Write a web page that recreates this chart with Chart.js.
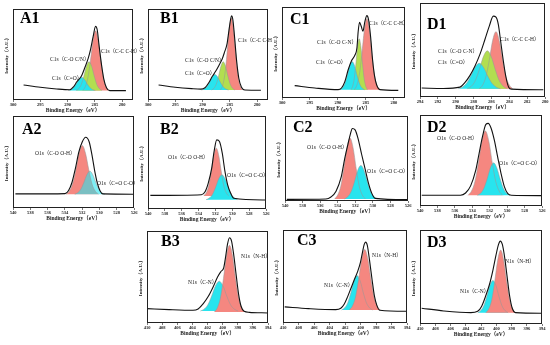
<!DOCTYPE html>
<html>
<head>
<meta charset="utf-8">
<script src="https://cdn.jsdelivr.net/npm/chart.js@4.4.1/dist/chart.umd.min.js"></script>
<style>
  body { margin: 0; background: #fff; }
  #wrap { position: relative; width: 550px; height: 345px; overflow: hidden; }
  #wrap canvas { position: absolute; }
</style>
</head>
<body>
<div id="wrap"></div>
<script>
// axis ranges (eV) and tick steps
const C1S_RANGE = [278, 300];
const D1_RANGE = [280, 294];
const O1S_RANGE = [526, 540];
const N1S_RANGE = [394, 410];

// [binding energy, intensity in % of the frame height]
const A1_env = [[279.3,10.3],[282.25,10.3],[282.86,13.5],[283.35,23],[283.8,40],[284.2,58.8],[284.56,77.2],[284.87,80.9],[285.3,69.9],[285.8,55.1],[286.2,46],[286.8,36],[287.4,27],[288.3,20],[288.9,14.5],[289.6,11.2],[292,12.1],[295,14],[298.06,16.5]];
const A1_red = [[282.48,10.5],[282.95,14.6],[283.43,24.3],[283.9,43.3],[284.38,65.5],[284.85,76],[285.33,65.5],[285.8,43.3],[286.28,24.3],[286.75,14.6],[287.23,10.5]];
const A1_green = [[283.68,10.5],[284.15,12.5],[284.63,17.1],[285.1,26.3],[285.58,37],[286.05,42],[286.53,37],[287.0,26.3],[287.48,17.1],[287.95,12.5],[288.43,10.5]];
const A1_cyan = [[284.9,10.5],[285.4,11.4],[285.9,13.6],[286.4,17.8],[286.9,22.7],[287.4,25],[287.9,22.7],[288.4,17.8],[288.9,13.6],[289.4,11.4],[289.9,10.5]];

const B1_env = [[279.3,10.7],[282.25,11],[282.86,14],[283.35,23.9],[283.77,44.1],[284.14,69.9],[284.44,88.2],[284.69,92.6],[284.87,88.2],[285.17,76],[285.5,62],[286.0,52],[286.4,45],[287.0,38],[287.6,31.5],[288.2,26],[288.8,19.5],[289.55,13.5],[290.3,12],[292,12.5],[295,14],[298.06,16.5]];
const B1_red = [[282.72,11],[283.12,15.9],[283.52,27.6],[283.92,50.5],[284.32,77.4],[284.72,90],[285.12,77.4],[285.52,50.5],[285.92,27.6],[286.32,15.9],[286.72,11]];
const B1_green = [[284.08,11],[284.5,12.9],[284.93,17.5],[285.35,26.5],[285.78,37],[286.2,42],[286.63,37],[287.05,26.5],[287.48,17.5],[287.9,12.9],[288.33,11]];
const B1_cyan = [[285.23,11],[285.73,12.1],[286.23,14.6],[286.73,19.5],[287.23,25.3],[287.73,28],[288.23,25.3],[288.73,19.5],[289.23,14.6],[289.73,12.1],[290.23,11]];

const C1_env = [[279.2,8.4],[282.48,9.2],[283.08,14.5],[283.44,24],[283.8,42.1],[284.16,67.8],[284.52,86.1],[284.82,90.5],[285.17,84.2],[285.53,73.3],[285.83,78.8],[286.13,83.2],[286.37,73.3],[286.6,55],[286.97,47],[287.57,41],[288.16,31],[288.76,18],[289.36,11],[289.96,9.2],[294.14,11],[297.73,13.6]];
const C1_red = [[282.57,9],[283.02,13.9],[283.47,25.4],[283.92,48],[284.37,74.5],[284.82,87],[285.27,74.5],[285.72,48],[286.17,25.4],[286.62,13.9],[287.07,9]];
const C1_green = [[284.69,9],[284.99,12.5],[285.29,20.8],[285.59,37],[285.89,56],[286.19,65],[286.49,56],[286.79,37],[287.09,20.8],[287.39,12.5],[287.69,9]];
const C1_cyan = [[285.2,9],[285.65,10.9],[286.1,15.5],[286.55,24.5],[287.0,35],[287.45,40],[287.9,35],[288.35,24.5],[288.8,15.5],[289.25,10.9],[289.7,9]];

const D1_env = [[280.19,7.7],[283.73,8.4],[284.07,10.5],[284.37,21],[284.67,38.6],[284.97,59.6],[285.23,77.2],[285.49,84.9],[285.79,86],[286.24,75.4],[286.72,61.4],[287.28,45.6],[287.84,33],[288.4,23],[288.96,15.5],[289.52,10.5],[291.39,9.1],[293.81,9.5]];
const D1_red = [[283.62,8.8],[283.99,12.6],[284.37,21.5],[284.74,39.2],[285.12,59.8],[285.49,69.5],[285.87,59.8],[286.24,39.2],[286.62,21.5],[286.99,12.6],[287.37,8.8]];
const D1_green = [[284.21,8.8],[284.66,11.3],[285.11,17.3],[285.56,29],[286.01,42.7],[286.46,49.1],[286.91,42.7],[287.36,29],[287.81,17.3],[288.26,11.3],[288.71,8.8]];
const D1_cyan = [[284.99,8.8],[285.46,10.5],[285.94,14.5],[286.41,22.3],[286.89,31.5],[287.36,35.8],[287.84,31.5],[288.31,22.3],[288.79,14.5],[289.26,10.5],[289.74,8.8]];

const A2_env = [[526,15],[529.6,15.3],[529.92,18.5],[530.24,27],[530.56,41],[530.87,58],[531.19,72],[531.59,76.9],[531.98,72],[532.38,61],[532.78,43],[533.17,28],[533.57,19],[533.97,15.6],[536,15.4],[539.72,15.4]];
const A2_red = [[530.1,15],[530.48,18.3],[530.86,26.1],[531.23,41.4],[531.61,59.4],[531.98,67.8],[532.36,59.4],[532.73,41.4],[533.11,26.1],[533.48,18.3],[533.86,15]];
const A2_cyan = [[529.36,15],[529.71,16.6],[530.06,20.3],[530.41,27.5],[530.76,36],[531.11,40],[531.46,36],[531.81,27.5],[532.16,20.3],[532.51,16.6],[532.86,15]];

const B2_env = [[526,9.6],[529.82,11.5],[530.22,17.5],[530.55,26],[530.87,40.4],[531.19,60],[531.52,72.5],[531.84,74.3],[532.16,61.8],[532.44,43.9],[532.85,27.9],[533.25,18.2],[533.66,15.4],[539.72,14.6]];
const B2_red = [[530.4,14],[530.7,17.2],[531.0,24.8],[531.3,39.7],[531.6,57.2],[531.9,65.4],[532.2,57.2],[532.5,39.7],[532.8,24.8],[533.1,17.2],[533.4,14]];
const B2_cyan = [[529.36,10],[529.73,11.7],[530.11,15.6],[530.48,23.4],[530.86,32.5],[531.23,36.8],[531.61,32.5],[531.98,23.4],[532.36,15.6],[532.73,11.7],[533.11,10]];

const C2_env = [[526,1.6],[529.73,3.1],[530.12,9],[530.5,21],[530.89,38],[531.28,55],[531.67,72.9],[532.02,83.7],[532.33,85.3],[532.56,78.7],[532.83,67],[533.22,49],[533.6,28.3],[534.19,11.6],[534.77,4.7],[535.35,2.3],[539.8,1.9]];
const C2_red = [[530.85,2.5],[531.2,7],[531.55,17.5],[531.9,38.3],[532.25,62.5],[532.6,74],[532.95,62.5],[533.3,38.3],[533.65,17.5],[534.0,7],[534.35,2.5]];
const C2_cyan = [[529.49,2.5],[529.86,5],[530.24,10.8],[530.61,22.2],[530.99,35.6],[531.36,41.9],[531.74,35.6],[532.11,22.2],[532.49,10.8],[532.86,5],[533.24,2.5]];

const D2_env = [[526,11.4],[529.53,11.8],[529.92,13.6],[530.31,21],[530.7,35.7],[531.09,54],[531.47,72.4],[531.86,86],[532.17,90.8],[532.44,89.7],[532.83,76.1],[533.22,57.7],[533.6,39.3],[534.19,22.1],[534.77,14.3],[535.35,11.8],[539.8,11.8]];
const D2_red = [[530.5,11.8],[530.9,16.2],[531.3,26.6],[531.7,47.1],[532.1,71.1],[532.5,82.4],[532.9,71.1],[533.3,47.1],[533.7,26.6],[534.1,16.2],[534.5,11.8]];
const D2_cyan = [[529.68,11.8],[530.05,14],[530.43,19.3],[530.8,29.6],[531.18,41.7],[531.55,47.4],[531.93,41.7],[532.3,29.6],[532.68,19.3],[533.05,14],[533.43,11.8]];

const B3_env = [[394,10.9],[396.48,11.6],[397.16,12.7],[397.56,18.2],[397.88,30.9],[398.19,50.9],[398.51,72.7],[398.82,89.1],[399.09,92.7],[399.36,85.5],[399.59,72.7],[399.86,60],[400.22,56],[400.67,50],[401.21,40],[401.89,29],[402.56,21],[403.24,15.3],[403.92,13.8],[407.07,14.5],[410,15.6]];
const B3_red = [[397.09,12],[397.49,16.5],[397.89,27.2],[398.29,48.2],[398.69,72.8],[399.09,84.4],[399.49,72.8],[399.89,48.2],[400.29,27.2],[400.69,16.5],[401.09,12]];
const B3_cyan = [[397.95,13],[398.45,15],[398.95,19.8],[399.45,29.3],[399.95,40.3],[400.45,45.5],[400.95,40.3],[401.45,29.3],[401.95,19.8],[402.45,15],[402.95,13]];

const C3_env = [[394,12.6],[397.5,13.7],[397.89,19],[398.2,28.8],[398.51,46.8],[398.82,66.5],[399.12,83.5],[399.34,87],[399.52,84.5],[399.74,76.3],[400.0,65.5],[400.35,55.8],[400.79,46.8],[401.23,37.4],[401.67,28.1],[402.11,20.1],[402.54,15.8],[403.2,14.4],[406.71,15.5],[409.78,17.3]];
const C3_red = [[397.45,14],[397.85,18.1],[398.25,27.7],[398.65,46.5],[399.05,68.6],[399.45,79.1],[399.85,68.6],[400.25,46.5],[400.65,27.7],[401.05,18.1],[401.45,14]];
const C3_cyan = [[398.44,14],[398.84,16.3],[399.24,21.8],[399.64,32.5],[400.04,45.1],[400.44,51],[400.84,45.1],[401.24,32.5],[401.64,21.8],[402.04,16.3],[402.44,14]];

const D3_env = [[394,11.4],[397.47,12.1],[397.91,17],[398.27,31.1],[398.58,50.7],[398.89,70.4],[399.2,84.6],[399.47,88.2],[399.73,83.9],[400.04,72.9],[400.44,57.1],[400.89,42],[401.38,30],[401.91,19],[402.44,13.5],[403.33,12.1],[406.89,13.9],[409.78,16.8]];
const D3_red = [[397.48,12],[397.87,16.2],[398.26,26],[398.64,45.3],[399.03,67.9],[399.42,78.6],[399.81,67.9],[400.2,45.3],[400.58,26],[400.97,16.2],[401.36,12]];
const D3_cyan = [[398.44,12],[398.84,14.2],[399.24,19.2],[399.64,29.2],[400.04,40.9],[400.44,46.4],[400.84,40.9],[401.24,29.2],[401.64,19.2],[402.04,14.2],[402.44,12]];

const RED = 'rgb(245,135,128)';
const GREEN = 'rgb(178,222,80)';
const CYAN = 'rgb(40,228,238)';
const CYAN_SOFT = 'rgba(40,228,238,0.6)';
const SERIF = '"Liberation Serif", "Times New Roman", "Noto Sans CJK SC", serif';

// box = [left, top, right, bottom] of the frame in page pixels; comps drawn bottom -> top
const panels = [
  { tag: 'A1', box: [13, 9, 133, 100], range: C1S_RANGE, step: 5, env: A1_env,
    comps: [[A1_red, RED, 10.5], [A1_green, GREEN, 10.5], [A1_cyan, CYAN, 10.5]],
    notes: [['C1s（C-C C-H）', 101, 52], ['C1s（C-O C/N）', 50, 60], ['C1s（C=O）', 52, 79]], tagPos: [20, 19] },
  { tag: 'B1', box: [148, 9, 268, 100], range: C1S_RANGE, step: 5, env: B1_env,
    comps: [[B1_red, RED, 11], [B1_green, GREEN, 11], [B1_cyan, CYAN, 11]],
    notes: [['C1s（C-C C-H）', 238, 41], ['C1s（C-O C/N）', 185, 61], ['C1s（C=O）', 185, 74]], tagPos: [160, 19] },
  { tag: 'C1', box: [282, 7, 405, 98], range: C1S_RANGE, step: 5, env: C1_env,
    comps: [[C1_red, RED, 9], [C1_green, GREEN, 9], [C1_cyan, CYAN, 9]],
    notes: [['C1s（C-C C-H）', 369, 24], ['C1s（C-O C-N）', 317, 43], ['C1s（C=O）', 316, 63]], tagPos: [290, 20] },
  { tag: 'D1', box: [420, 3, 545, 97], range: D1_RANGE, step: 2, env: D1_env,
    comps: [[D1_red, RED, 8.8], [D1_green, GREEN, 8.8], [D1_cyan, CYAN, 8.8]],
    notes: [['C1s（C-C C-H）', 500, 40], ['C1s（C-O C-N）', 438, 52], ['C1s（C=O）', 438, 63]], tagPos: [427, 25] },
  { tag: 'A2', box: [13, 116, 134, 208], range: O1S_RANGE, step: 2, env: A2_env,
    comps: [[A2_red, RED, 15], [A2_cyan, CYAN_SOFT, 15]],
    notes: [['O1s（C-O O-H）', 35, 154], ['O1s（C=O C-O）', 97, 184]], tagPos: [22, 130] },
  { tag: 'B2', box: [148, 116, 266, 209], range: O1S_RANGE, step: 2, env: B2_env,
    comps: [[B2_red, RED, 14], [B2_cyan, CYAN, 10]],
    notes: [['O1s（C-O O-H）', 168, 158], ['O1s（C=O C-O）', 227, 176]], tagPos: [160, 130] },
  { tag: 'C2', box: [285, 116, 408, 201], range: O1S_RANGE, step: 2, env: C2_env,
    comps: [[C2_red, RED, 2.5], [C2_cyan, CYAN, 2.5]],
    notes: [['O1s（C-O O-H）', 307, 148], ['O1s（C=O C-O）', 367, 172]], tagPos: [293, 128] },
  { tag: 'D2', box: [420, 115, 542, 206], range: O1S_RANGE, step: 2, env: D2_env,
    comps: [[D2_red, RED, 11.8], [D2_cyan, CYAN, 11.8]],
    notes: [['O1s（C-O O-H）', 437, 139], ['O1s（C=O C-O）', 499, 164]], tagPos: [427, 128] },
  { tag: 'B3', box: [147, 231, 268, 323], range: N1S_RANGE, step: 2, env: B3_env,
    comps: [[B3_cyan, CYAN, 13], [B3_red, RED, 12]],
    notes: [['N1s（N-H）', 241, 257], ['N1s（C-N）', 188, 283]], tagPos: [161, 242] },
  { tag: 'C3', box: [283, 230, 407, 323], range: N1S_RANGE, step: 2, env: C3_env,
    comps: [[C3_cyan, CYAN, 14], [C3_red, RED, 14]],
    notes: [['N1s（N-H）', 372, 256], ['N1s（C-N）', 324, 286]], tagPos: [297, 241] },
  { tag: 'D3', box: [420, 230, 542, 324], range: N1S_RANGE, step: 2, env: D3_env,
    comps: [[D3_cyan, CYAN, 12], [D3_red, RED, 12]],
    notes: [['N1s（N-H）', 505, 262], ['N1s（C-N）', 460, 292]], tagPos: [427, 243] },
];

// points sorted so that pixels run left -> right on the reversed axis
function xy(arr) {
  return arr.slice().sort((a, b) => b[0] - a[0]).map(p => ({ x: p[0], y: p[1] }));
}

const wrap = document.getElementById('wrap');

panels.forEach(p => {
  const [L, T, R, B] = p.box;
  const left = L - 9, top = T - 2;
  const W = R - L + 9 + 4, H = B - T + 2 + 14;
  const cv = document.createElement('canvas');
  cv.width = W; cv.height = H;
  cv.style.left = left + 'px'; cv.style.top = top + 'px';
  cv.style.width = W + 'px'; cv.style.height = H + 'px';
  wrap.appendChild(cv);

  const n = p.comps.length;
  const datasets = [{ data: xy(p.env), borderColor: '#111', borderWidth: 1.1, fill: false, order: 0 }];
  p.comps.forEach((c, i) => {
    // grey outline on top of every fill
    datasets.push({ data: xy(c[0]), borderColor: 'rgba(150,150,150,0.9)', borderWidth: 0.6, fill: false, order: 1 });
    datasets.push({ data: xy(c[0]), borderColor: 'transparent', borderWidth: 0,
      backgroundColor: c[1], fill: { value: c[2] }, order: 2 + (n - 1 - i) });
  });

  // frame, peak labels and panel tag
  const frame = {
    id: 'frame',
    afterDraw(chart) {
      const { ctx, chartArea: a } = chart;
      ctx.save();
      ctx.strokeStyle = '#222';
      ctx.lineWidth = 1;
      ctx.strokeRect(a.left + 0.5, a.top + 0.5, a.right - a.left - 1, a.bottom - a.top - 1);
      ctx.fillStyle = '#222';
      ctx.textBaseline = 'middle';
      ctx.textAlign = 'left';
      ctx.font = '5.5px ' + SERIF;
      p.notes.forEach(t => ctx.fillText(t[0], t[1] - left, t[2] - top));
      ctx.font = 'bold 16px ' + SERIF;
      ctx.fillStyle = '#000';
      ctx.fillText(p.tag, p.tagPos[0] - left, p.tagPos[1] - top);
      ctx.restore();
    }
  };

  new Chart(cv, {
    type: 'line',
    data: { datasets },
    plugins: [frame],
    options: {
      responsive: false,
      animation: false,
      devicePixelRatio: 1,
      layout: { padding: { left: 0, right: 4, top: 2, bottom: 0 } },
      elements: { point: { radius: 0 }, line: { cubicInterpolationMode: 'monotone' } },
      plugins: { legend: { display: false }, tooltip: { enabled: false } },
      scales: {
        x: {
          type: 'linear', reverse: true, min: p.range[0], max: p.range[1],
          afterFit: s => { s.height = 14; },
          border: { display: false },
          grid: { display: true, drawOnChartArea: false, drawTicks: true, tickLength: 2, color: '#222', lineWidth: 0.6 },
          ticks: { stepSize: p.step, autoSkip: false, maxRotation: 0, includeBounds: false, padding: 0.5,
                   color: '#222', font: { family: SERIF, size: 4.5, weight: 'bold' } },
          title: { display: true, text: 'Binding Energy（eV）', color: '#222', padding: 0,
                   font: { family: SERIF, size: 5.5, weight: 'bold' } }
        },
        y: {
          min: 0, max: 100,
          afterFit: s => { s.width = 9; },
          border: { display: false },
          grid: { display: false },
          ticks: { display: false },
          title: { display: true, text: 'Intensity（A.U.）', color: '#222', padding: 0,
                   font: { family: SERIF, size: 5, weight: 'bold' } }
        }
      }
    }
  });
});
</script>
</body>
</html>
